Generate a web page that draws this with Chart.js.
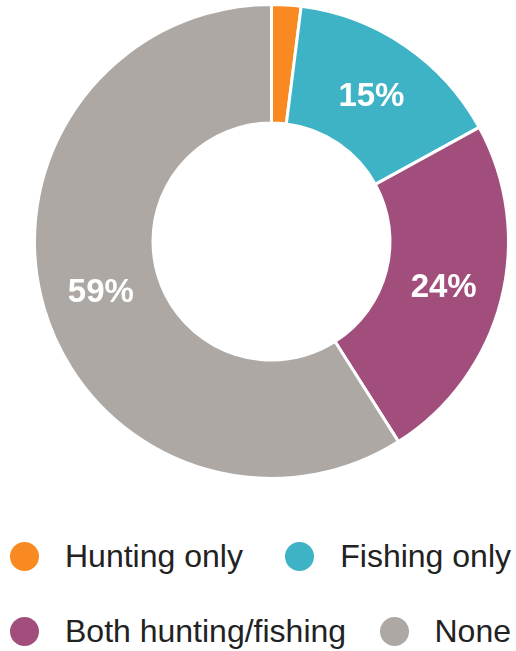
<!DOCTYPE html>
<html>
<head>
<meta charset="utf-8">
<script src="https://cdn.jsdelivr.net/npm/chart.js@4/dist/chart.umd.min.js"></script>
<style>
  html, body { margin: 0; padding: 0; background: #fff; }
  #wrap { position: relative; width: 516px; height: 651px; }
  #box { position: absolute; left: 0; top: 0; width: 516px; height: 490px; }
  #legend { position: absolute; left: 10px; top: 536px; width: 501px;
            font-family: "Liberation Sans", Arial, sans-serif; font-size: 32px; color: #222; }
  #legend .row { display: flex; justify-content: space-between; align-items: center; height: 41px; }
  #legend .row + .row { margin-top: 34px; }
  #legend .item { display: flex; align-items: center; white-space: nowrap; }
  #legend .dot { width: 29px; height: 29px; border-radius: 50%; margin-right: 26px; }
</style>
</head>
<body>
<div id="wrap">
  <div id="box"><canvas id="chart"></canvas></div>
  <div id="legend"></div>
</div>
<script>
const categories = ["Hunting only", "Fishing only", "Both hunting/fishing", "None"];
const shares = [2, 15, 24, 59];
const colors = ["#F98A22", "#3FB3C6", "#A14E7C", "#ADA8A4"];

// white percentage text in the middle of each slice that is wide enough
const sliceLabels = {
  id: "sliceLabels",
  afterDatasetsDraw(chart) {
    const ctx = chart.ctx;
    const meta = chart.getDatasetMeta(0);
    ctx.save();
    ctx.fillStyle = "#fff";
    ctx.font = "bold 33px 'Liberation Sans', Arial, sans-serif";
    ctx.textAlign = "center";
    ctx.textBaseline = "middle";
    meta.data.forEach((arc, i) => {
      const v = chart.data.datasets[0].data[i];
      if (v < 5) return;
      const p = arc.tooltipPosition();
      ctx.fillText(v + "%", p.x, p.y + 2);
    });
    ctx.restore();
  }
};

// legend rows built from the chart's own legend items
const htmlLegend = {
  id: "htmlLegend",
  afterUpdate(chart) {
    const el = document.getElementById("legend");
    el.innerHTML = "";
    const items = chart.options.plugins.legend.labels.generateLabels(chart);
    for (let r = 0; r < items.length; r += 2) {
      const row = document.createElement("div");
      row.className = "row";
      items.slice(r, r + 2).forEach(item => {
        const it = document.createElement("div");
        it.className = "item";
        const dot = document.createElement("span");
        dot.className = "dot";
        dot.style.background = item.fillStyle;
        it.appendChild(dot);
        it.appendChild(document.createTextNode(item.text));
        row.appendChild(it);
      });
      el.appendChild(row);
    }
  }
};

new Chart(document.getElementById("chart"), {
  type: "doughnut",
  data: {
    labels: categories,
    datasets: [{
      data: shares,
      backgroundColor: colors,
      borderColor: "#fff",
      borderWidth: 3,
      radius: 237,
      cutout: "50%"
    }]
  },
  options: {
    responsive: true,
    maintainAspectRatio: false,
    animation: false,
    layout: { padding: { left: 27, top: 0, right: 0, bottom: 7 } },
    plugins: {
      legend: { display: false },
      tooltip: { enabled: false }
    }
  },
  plugins: [sliceLabels, htmlLegend]
});
</script>
</body>
</html>
